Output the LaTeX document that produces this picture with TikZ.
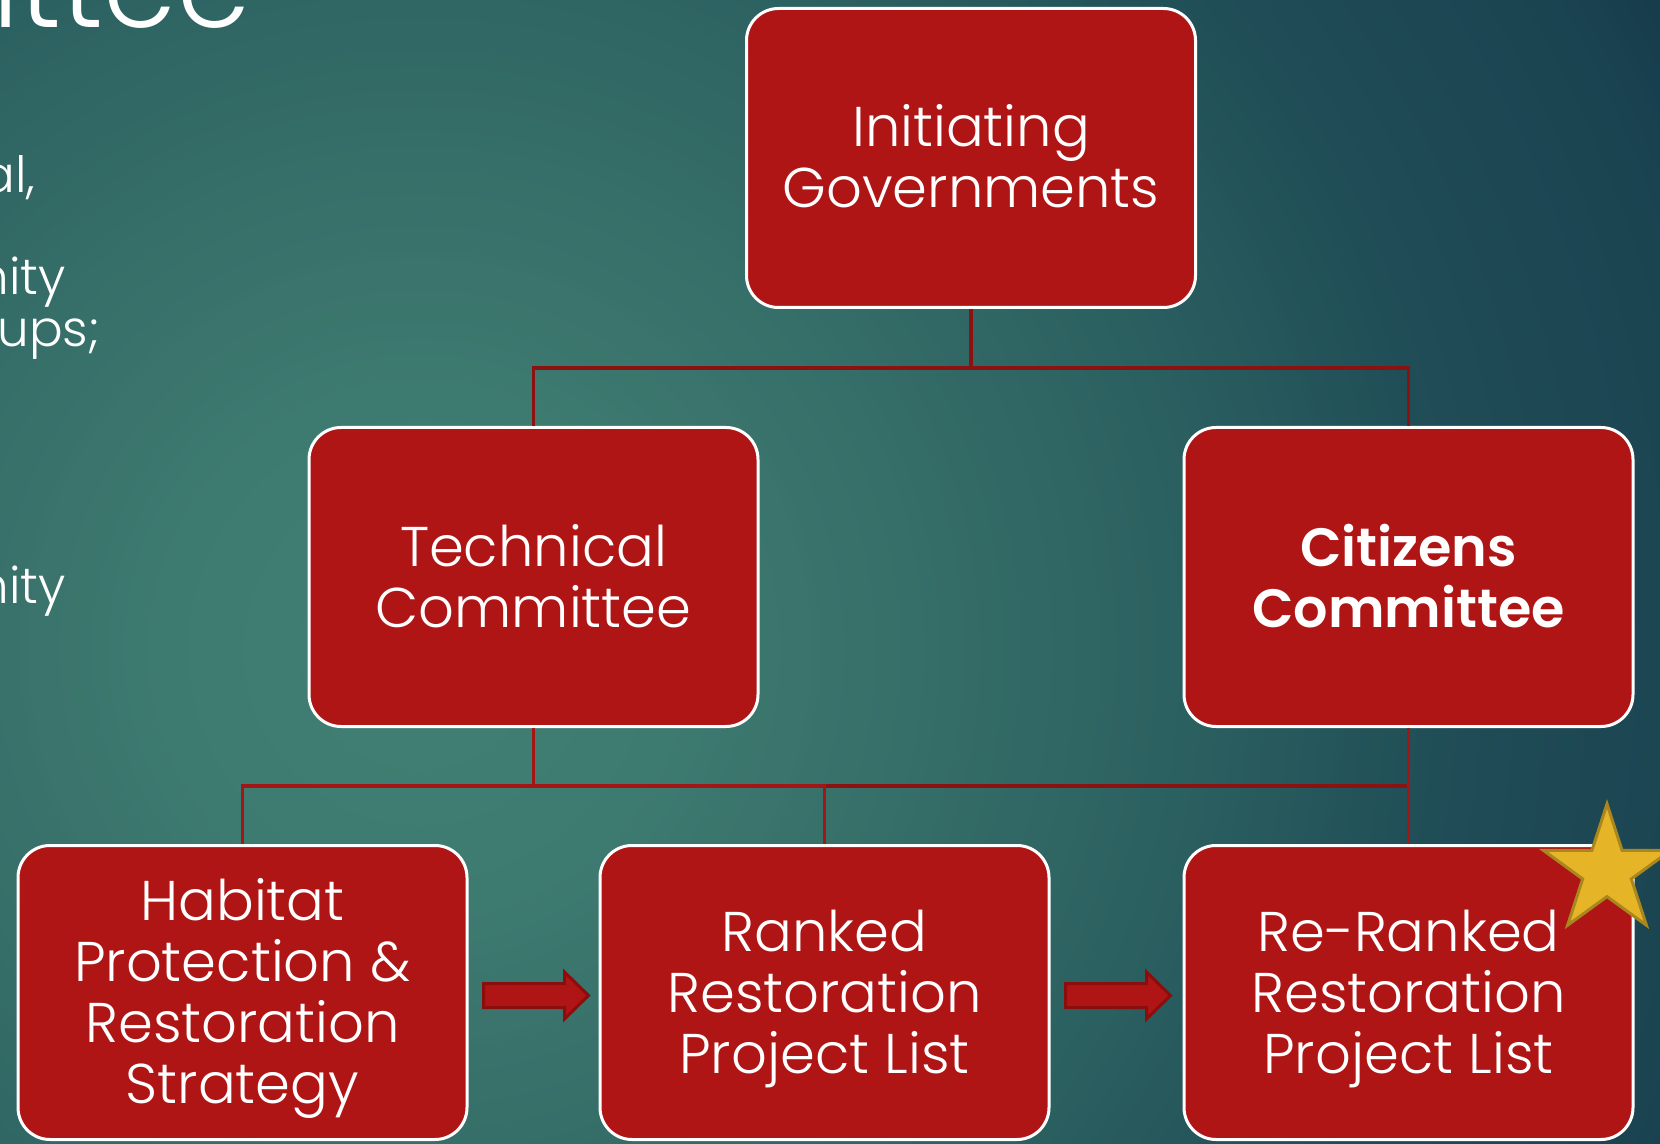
\documentclass[tikz,border=0pt]{standalone}
\usepackage{fontspec}
\setmainfont{Poppins}[UprightFont={* Light},BoldFont={* SemiBold}]
\usetikzlibrary{shapes.geometric,calc}
\definecolor{boxred}{RGB}{176,21,21}
\definecolor{connA}{RGB}{163,22,22}
\definecolor{connB}{RGB}{140,17,17}
\definecolor{arrowdark}{RGB}{138,14,14}
\definecolor{stargold}{RGB}{229,181,39}
\definecolor{stardark}{RGB}{170,135,30}
\definecolor{gz}{RGB}{66,127,115}
\definecolor{ga}{RGB}{61,122,112}
\definecolor{gb}{RGB}{57,114,107}
\definecolor{gc}{RGB}{43,96,96}
\definecolor{gd}{RGB}{31,76,86}
\definecolor{ge}{RGB}{27,68,81}
\definecolor{gf}{RGB}{22,59,76}
\tikzset{
  box/.style={draw=white, line width=1.5pt, fill=boxred, rounded corners=16pt,
    minimum width=224.5pt, minimum height=149.5pt, text=white, align=center,
    inner sep=0pt, font=\fontsize{28}{30.5}\selectfont, text depth=0pt},
  twol/.style={text height=50pt},
  threel/.style={text height=80.5pt},
  fourl/.style={text height=111pt},
  lowrow/.style={minimum height=147pt},
  conA/.style={draw=connA, line width=1.75pt},
  conB/.style={draw=connB, line width=1.75pt},
  sidetxt/.style={text=white, inner sep=0pt, anchor=base east, font=\fontsize{25}{30}\selectfont},
  blockarr/.pic={\path[fill=boxred, draw=arrowdark, line width=1.5pt]
    (0,-12) -- (81,-12) -- (81,-23.5) -- (105,0) -- (81,23.5) -- (81,12) -- (0,12) -- cycle;}
}
\begin{document}
\begin{tikzpicture}[x=0.5pt,y=-0.5pt]
\useasboundingbox (0,0) rectangle (1660,1144);
\clip (0,0) rectangle (1660,1144);
% background: radial gradient built from concentric discs
\fill[gf] (0,0) rectangle (1660,1144);
\foreach \r in {1424,1416,...,8} {
  \ifdim\r pt<270pt
    \pgfmathtruncatemacro\p{(270-\r)/270*100}\colorlet{bgc}{gz!\p!ga}%
  \else\ifdim\r pt<420pt
    \pgfmathtruncatemacro\p{(420-\r)/150*100}\colorlet{bgc}{ga!\p!gb}%
  \else\ifdim\r pt<774pt
    \pgfmathtruncatemacro\p{(774-\r)/354*100}\colorlet{bgc}{gb!\p!gc}%
  \else\ifdim\r pt<1055pt
    \pgfmathtruncatemacro\p{(1055-\r)/281*100}\colorlet{bgc}{gc!\p!gd}%
  \else\ifdim\r pt<1300pt
    \pgfmathtruncatemacro\p{(1300-\r)/245*100}\colorlet{bgc}{gd!\p!ge}%
  \else
    \pgfmathtruncatemacro\p{(1424-\r)/124*100}\colorlet{bgc}{ge!\p!gf}%
  \fi\fi\fi\fi\fi
  \fill[bgc] (420,650) circle[radius=\r];
}

% cropped slide text on the left
\node[sidetxt, font=\fontsize{59}{60}\selectfont] (title) at (251,28) {mittee};
\node[sidetxt] (s1) at (36,193) {nal,};
\node[sidetxt] (s2) at (66,295) {nity};
\node[sidetxt] (s3) at (100,347) {ups;};
\node[sidetxt] (s4) at (66,603) {nity};

% boxes
\node[box,twol] (gov) at (971,158) {Initiating\\Governments};
\node[box,twol] (tech) at (533.5,577) {Technical\\Committee};
\node[box,twol,font=\fontsize{27}{30.5}\selectfont\bfseries] (cit) at (1408.5,577) {Citizens\\Committee};
\node[box,fourl,lowrow] (hab) at (242.5,992.5) {Habitat\\Protection \&\\Restoration\\Strategy};
\node[box,threel,lowrow] (rank) at (824.5,992.5) {Ranked\\Restoration\\Project List};
\node[box,threel,lowrow] (rerank) at (1408.5,992.5) {Re-Ranked\\Restoration\\Project List};

% connectors
\coordinate (busA) at (0,368);
\coordinate (busB) at (0,786);
\draw[conB] (gov.south) -- (gov.south |- busA) -| (tech.north);
\draw[conB] (gov.south |- busA) -| (cit.north);
\draw[conB] (cit.south |- busB) -- (rank.north |- busB);
\draw[conA] (tech.south) -- (tech.south |- busB) -| (hab.north);
\draw[conA] (tech.south |- busB) -| (rank.north);
\draw[conA] (cit.south) -- (rerank.north);

% block arrows
\pic at ([xshift=7.5pt,yshift=-1.5pt]hab.east) {blockarr};
\pic at ([xshift=7.5pt,yshift=-1.5pt]rank.east) {blockarr};

% star
\node[star, star points=5, star point ratio=2.618, minimum size=67pt, inner sep=0pt,
  fill=stargold, draw=stardark, line width=1.5pt] (star) at (1607,871) {};
\end{tikzpicture}
\end{document}
